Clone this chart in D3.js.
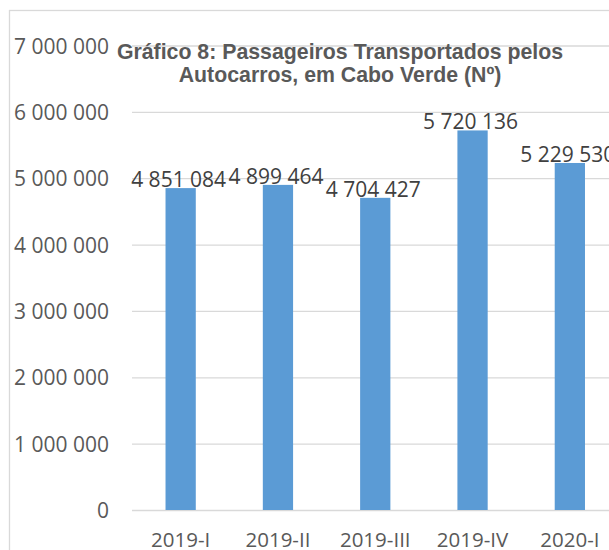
<!DOCTYPE html>
<html>
<head>
<meta charset="utf-8">
<script src="https://cdn.jsdelivr.net/npm/d3@7"></script>
<style>
  body { margin: 0; background: #fff; }
  svg { display: block; }
</style>
</head>
<body>
<div id="chart"></div>
<script>
// Data
const quarters = ['2019-I', '2019-II', '2019-III', '2019-IV', '2020-I'];
const passengers = [4851084, 4899464, 4704427, 5720136, 5229530];
const yTicks = [0, 1000000, 2000000, 3000000, 4000000, 5000000, 6000000, 7000000];
const titleLines = ['Gráfico 8: Passageiros Transportados pelos', 'Autocarros, em Cabo Verde (Nº)'];

// Dimensions
const width = 609;
const height = 550;
const plot = {left: 132, right: 618.5, top: 45.5, bottom: 510};

// Numbers with a space as thousands separator
const fmt = d3.formatLocale({decimal: ',', thousands: ' ', grouping: [3], currency: ['', '']}).format(',d');

const svg = d3.select('#chart')
  .append('svg')
    .attr('width', width)
    .attr('height', height)
    .attr('viewBox', `0 0 ${width} ${height}`);

// Chart frame (runs past the right and bottom edges)
svg.append('rect')
    .attr('x', 9.5)
    .attr('y', 10.5)
    .attr('width', 700)
    .attr('height', 700)
    .attr('fill', '#fff')
    .attr('stroke', '#d9d9d9')
    .attr('stroke-width', 1.3);

// Scales
const x = d3.scaleBand()
  .domain(quarters)
  .range([plot.left, plot.right])
  .padding(0);
const barWidth = x.bandwidth() * 0.311;

const y = d3.scaleLinear()
  .domain([0, 7000000])
  .range([plot.bottom, plot.top]);

// Y axis with gridlines
const yAxis = svg.append('g')
    .attr('transform', `translate(${plot.left},0)`)
    .call(d3.axisLeft(y)
      .tickValues(yTicks)
      .tickFormat(fmt)
      .tickSize(-(plot.right - plot.left))
      .tickPadding(23));
yAxis.select('.domain').remove();
yAxis.selectAll('.tick line')
    .attr('stroke', '#d9d9d9')
    .attr('stroke-width', 1.3);
yAxis.selectAll('.tick text')
    .attr('dy', '0.36em')
    .attr('fill', '#595959')
    .style('font-family', '"Open Sans", sans-serif')
    .style('font-size', '21px');

// X axis labels
const xAxis = svg.append('g')
    .attr('transform', `translate(0,${plot.bottom})`)
    .call(d3.axisBottom(x).tickSize(0).tickPadding(0));
xAxis.select('.domain').remove();
xAxis.selectAll('.tick text')
    .attr('y', 36.5)
    .attr('dy', 0)
    .attr('fill', '#595959')
    .style('font-family', '"Open Sans", sans-serif')
    .style('font-size', '20.5px');

// Bars
svg.append('g')
    .attr('class', 'bars-group')
    .attr('fill', '#5b9bd5')
  .selectAll('rect')
  .data(passengers)
  .join('rect')
    .attr('x', (d, i) => x(quarters[i]) + (x.bandwidth() - barWidth) / 2)
    .attr('y', d => y(d))
    .attr('width', barWidth)
    .attr('height', d => y(0) - y(d));

// Data labels
svg.append('g')
    .attr('class', 'labels-group')
    .attr('fill', '#404040')
    .style('font-family', '"Open Sans", sans-serif')
    .style('font-size', '21px')
  .selectAll('text')
  .data(passengers)
  .join('text')
    .attr('text-anchor', 'middle')
    .attr('x', (d, i) => x(quarters[i]) + x.bandwidth() / 2 - 2)
    .attr('y', d => y(d) - 1)
    .text(d => fmt(d));

// Title
svg.append('text')
    .attr('text-anchor', 'middle')
    .attr('fill', '#595959')
    .style('font-family', '"Liberation Sans", Arial, sans-serif')
    .style('font-size', '21.3px')
    .style('font-weight', 700)
  .selectAll('tspan')
  .data(titleLines)
  .join('tspan')
    .attr('x', 340)
    .attr('y', (d, i) => 58.5 + i * 23.5)
    .text(d => d);
</script>
</body>
</html>
